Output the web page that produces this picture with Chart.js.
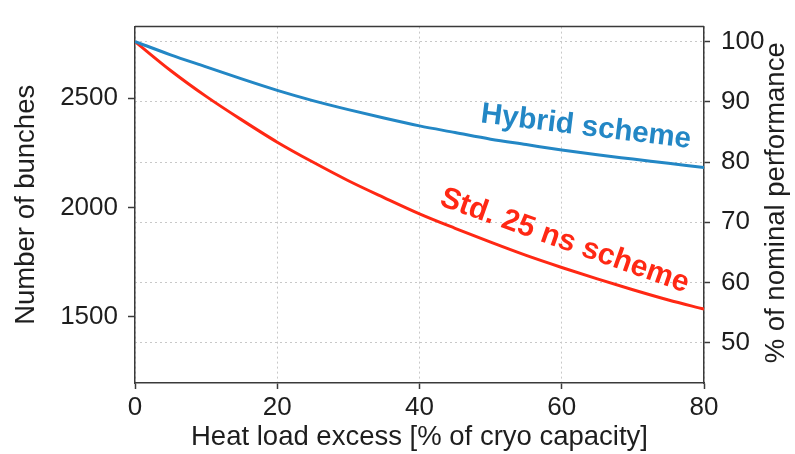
<!DOCTYPE html>
<html>
<head>
<meta charset="utf-8">
<script src="https://cdn.jsdelivr.net/npm/chart.js@4/dist/chart.umd.min.js"></script>
<style>
html,body{margin:0;padding:0;background:#fff;}
#wrap{width:795px;height:454px;position:relative;}
</style>
</head>
<body>
<div id="wrap"><canvas id="c" width="795" height="454"></canvas></div>
<script>
// ---- data ----
const heatLoadExcess = [0, 5, 10, 15, 20, 25, 30, 35, 40, 45, 50, 55, 60, 65, 70, 75, 80];
const hybridPercent  = [100, 97.8, 95.8, 93.8, 91.9, 90.2, 88.7, 87.3, 86.0, 84.9, 83.8, 82.9, 82.0, 81.2, 80.5, 79.8, 79.1];
const std25nsPercent = [100, 95.2, 90.9, 87.0, 83.3, 80.0, 76.9, 74.1, 71.4, 69.0, 66.7, 64.5, 62.5, 60.6, 58.8, 57.1, 55.6];
const seriesNames = ['Hybrid scheme', 'Std. 25 ns scheme'];
const nominalBunches = 2760;
const xTicks = [0, 20, 40, 60, 80];
const bunchTicks = [1500, 2000, 2500];
const percentTicks = [50, 60, 70, 80, 90, 100];
const percentRange = [43.33, 102.48];
const xTitle = 'Heat load excess [% of cryo capacity]';
const yLeftTitle = 'Number of bunches';
const yRightTitle = '% of nominal performance';

// ---- styles ----
const BLUE = '#2387c5';
const RED = '#ff2814';
const AXIS = '#3a3a3a';
const GRID = '#c8c8c8';
const TEXT = '#1e1e1e';
const FONT = '"Liberation Sans", Arial, Helvetica, sans-serif';

const toPoints = (xs, ys) => xs.map((x, i) => ({x: x, y: ys[i]}));
const setTicks = arr => (scale) => { scale.ticks = arr.map(v => ({value: v})); };
const plain = v => String(v);

const framePlugin = {
  id: 'frame',
  afterDraw(chart) {
    const {ctx, chartArea: a} = chart;
    ctx.save();
    ctx.strokeStyle = AXIS;
    ctx.lineWidth = 1.5;
    ctx.beginPath();
    ctx.moveTo(a.left, a.top);
    ctx.lineTo(a.right, a.top);
    ctx.stroke();
    // right title, reading bottom to top
    ctx.fillStyle = TEXT;
    ctx.font = '27.5px ' + FONT;
    ctx.textAlign = 'center';
    ctx.textBaseline = 'middle';
    ctx.translate(a.right + 72, (a.top + a.bottom) / 2 - 2);
    ctx.rotate(-Math.PI / 2);
    ctx.fillText(yRightTitle, 0, 0);
    ctx.restore();
  }
};

const curveLabelPlugin = {
  id: 'curveLabels',
  afterDatasetsDraw(chart, args, opts) {
    const {ctx} = chart;
    const xs = chart.scales.x, ys = chart.scales.y1;
    opts.items.forEach(it => {
      ctx.save();
      ctx.font = 'bold ' + it.size + 'px ' + FONT;
      ctx.fillStyle = it.color;
      ctx.textAlign = 'center';
      ctx.textBaseline = 'middle';
      ctx.translate(xs.getPixelForValue(it.x), ys.getPixelForValue(it.y));
      ctx.rotate(it.angle * Math.PI / 180);
      ctx.fillText(it.text, 0, 0);
      ctx.restore();
    });
  }
};

new Chart(document.getElementById('c'), {
  type: 'line',
  data: {
    datasets: [
      {label: seriesNames[0], data: toPoints(heatLoadExcess, hybridPercent), borderColor: BLUE, yAxisID: 'y1'},
      {label: seriesNames[1], data: toPoints(heatLoadExcess, std25nsPercent), borderColor: RED, yAxisID: 'y1'}
    ]
  },
  options: {
    responsive: false,
    animation: false,
    devicePixelRatio: 1,
    layout: {padding: {top: 8, left: 0, right: 0, bottom: 0}},
    elements: {
      point: {radius: 0},
      line: {borderWidth: 3, cubicInterpolationMode: 'monotone', fill: false}
    },
    plugins: {
      legend: {display: false},
      tooltip: {enabled: false},
      curveLabels: {
        items: [
          {text: seriesNames[0], x: 63.4, y: 85.8, angle: 7, color: BLUE, size: 29.5},
          {text: seriesNames[1], x: 60.4, y: 66.9, angle: 19.5, color: RED, size: 30}
        ]
      }
    },
    scales: {
      x: {
        type: 'linear', position: 'bottom', min: 0, max: 80,
        afterBuildTicks: setTicks(xTicks),
        afterFit: s => { s.height = 71; },
        grid: {color: GRID, lineWidth: 1, drawOnChartArea: true, drawTicks: true, tickLength: 6, tickColor: AXIS, tickWidth: 1.5},
        border: {display: true, color: AXIS, width: 1.5, dash: [2, 3]},
        ticks: {color: TEXT, font: {family: FONT, size: 26}, padding: 3, maxRotation: 0, autoSkip: false, callback: plain},
        title: {display: true, text: xTitle, color: TEXT, font: {family: FONT, size: 27.5}, padding: {top: 0, bottom: 0}}
      },
      y: {
        type: 'linear', position: 'left',
        min: percentRange[0] * nominalBunches / 100, max: percentRange[1] * nominalBunches / 100,
        afterBuildTicks: setTicks(bunchTicks),
        afterFit: s => { s.width = 135; },
        grid: {drawOnChartArea: false, drawTicks: true, tickLength: 7, tickColor: AXIS, tickWidth: 1.5},
        border: {display: true, color: AXIS, width: 1.5},
        ticks: {color: TEXT, font: {family: FONT, size: 26}, padding: 10, autoSkip: false, callback: plain},
        title: {display: true, text: yLeftTitle, color: TEXT, font: {family: FONT, size: 27.5}, padding: {top: 10, bottom: 0}}
      },
      y1: {
        type: 'linear', position: 'right',
        min: percentRange[0], max: percentRange[1],
        afterBuildTicks: setTicks(percentTicks),
        afterFit: s => { s.width = 91; },
        grid: {color: GRID, lineWidth: 1, drawOnChartArea: true, drawTicks: true, tickLength: 6, tickColor: AXIS, tickWidth: 1.5},
        border: {display: true, color: AXIS, width: 1.5, dash: [2, 3]},
        ticks: {color: TEXT, font: {family: FONT, size: 26}, padding: 11, autoSkip: false, callback: plain},
        title: {display: false}
      }
    }
  },
  plugins: [framePlugin, curveLabelPlugin]
});
</script>
</body>
</html>
